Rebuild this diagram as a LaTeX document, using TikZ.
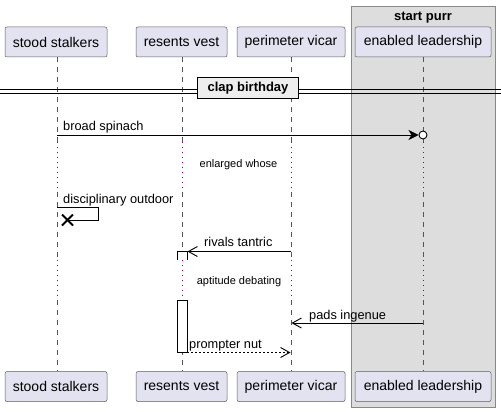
\documentclass[tikz,border=0pt]{standalone}
\usepackage{fontspec}
\setmainfont{Liberation Sans}
\usetikzlibrary{arrows.meta}
\definecolor{partfill}{HTML}{E2E2F0}
\definecolor{partdraw}{HTML}{181818}
\definecolor{grpfill}{HTML}{DDDDDD}
\definecolor{grpdraw}{HTML}{888888}
\definecolor{delayred}{HTML}{A80036}
\definecolor{lifegray}{HTML}{555555}
\definecolor{sepfill}{HTML}{EEEEEE}
\begin{document}
\begin{tikzpicture}[x=1pt,y=-1pt,
  part/.style={draw=partdraw!70, fill=partfill, rounded corners=2pt, line width=0.5pt,
    minimum height=30pt, inner sep=0pt, font=\fontsize{14}{16}\selectfont},
  lifeline/.style={draw=lifegray, dash pattern=on 5pt off 5pt, line width=0.5pt},
  delayline/.style={draw=delayred, dash pattern=on 1pt off 4pt, line width=0.9pt},
  msg/.style={draw=black, line width=0.9pt},
  msglabel/.style={font=\fontsize{12.8}{14}\selectfont, anchor=base west, inner sep=0pt},
  delaylabel/.style={font=\fontsize{11}{12}\selectfont, inner sep=0pt},
  openhead/.style={-{Straight Barb[length=9pt,width=10pt,line width=0.9pt]}},
  filledhead/.style={-{Stealth[length=10pt,width=10pt,inset=3pt]}},
  actbox/.style={draw=black, fill=white, line width=0.9pt}
]
\useasboundingbox (0,0) rectangle (501,412);
\fill[white] (0,0) rectangle (501,412);

% group box
\node[draw=grpdraw, fill=grpfill, line width=0.9pt, minimum width=144pt, minimum height=401pt,
  inner sep=0pt, anchor=north west] (grp) at (351,6) {};
\node[font=\bfseries\fontsize{13}{15}\selectfont, anchor=base] (grptitle) at (423,21) {start purr};

% participants top
\node[part, minimum width=102pt] (ssT) at (56,42) {stood stalkers};
\node[part, minimum width=91pt] (rvT) at (181.5,42) {resents vest};
\node[part, minimum width=108pt] (pvT) at (291,42) {perimeter vicar};
\node[part, minimum width=136pt] (elT) at (423,42) {enabled leadership};
% participants bottom
\node[part, minimum width=102pt] (ssB) at (56,386.5) {stood stalkers};
\node[part, minimum width=91pt] (rvB) at (181.5,386.5) {resents vest};
\node[part, minimum width=108pt] (pvB) at (291,386.5) {perimeter vicar};
\node[part, minimum width=136pt] (elB) at (423,386.5) {enabled leadership};

% lifeline coordinates
\foreach \n/\x in {ss/57, rv/182, pv/291, el/423}{
  \coordinate (\n a) at (\x,57);
  \coordinate (\n b) at (\x,142);
  \coordinate (\n c) at (\x,192);
  \coordinate (\n d) at (\x,260);
  \coordinate (\n e) at (\x,300);
  \coordinate (\n f) at (\x,371);
  \draw[lifeline] (\n a) -- (\n b);
  \draw[delayline] (\n b) -- (\n c);
  \draw[lifeline] (\n c) -- (\n d);
  \draw[delayline] (\n d) -- (\n e);
  \draw[lifeline] (\n e) -- (\n f);
}

% separator
\coordinate (sepL) at (0,89);
\coordinate (sepR) at (501,89);
\draw[line width=0.9pt] (0,89) -- (501,89) (0,93.5) -- (501,93.5);
\node[draw=black, fill=sepfill, line width=1.8pt, minimum width=101pt, minimum height=21pt,
  inner sep=0pt, font=\bfseries\fontsize{13}{15}\selectfont] (sep) at (248,88) {clap birthday};

% broad spinach
\coordinate (m1s) at (57,135);
\coordinate (m1e) at (418.5,135);
\draw[msg, filledhead] (m1s) -- (m1e);
\node[draw=black, fill=white, circle, minimum size=8pt, inner sep=0pt, line width=0.9pt] (circ) at (423,135) {};
\node[msglabel] (l1) at (63,131) {broad spinach};

% delay 1
\node[delaylabel] (d1) at (238.5,165) {enlarged whose};

% disciplinary outdoor (self, destroyed)
\coordinate (m2a) at (57,207);
\coordinate (m2b) at (98,207);
\coordinate (m2c) at (98,220);
\coordinate (m2d) at (67,220);
\draw[msg] (m2a) -- (m2b) -- (m2c) -- (m2d);
\draw[line width=1.8pt] (62,214.5) -- (73,225.5) (62,225.5) -- (73,214.5);
\node[msglabel] (l2) at (63,203) {disciplinary outdoor};

% activation box on resents vest
\coordinate (actTop) at (177,251.5);
\draw[actbox] (177,259.5) -- (177,251.5) -- (187,251.5) -- (187,259.5);
\draw[actbox] (177,300.5) rectangle (187,352.5);

% rivals tantric
\coordinate (m3s) at (291,251.5);
\coordinate (m3e) at (187.5,251.5);
\draw[msg, openhead] (m3s) -- (m3e);
\node[msglabel] (l3) at (204,246) {rivals tantric};

% delay 2
\node[delaylabel] (d2) at (239,281.5) {aptitude debating};

% pads ingenue
\coordinate (m4s) at (423,323);
\coordinate (m4e) at (291.5,323);
\draw[msg, openhead] (m4s) -- (m4e);
\node[msglabel] (l4) at (309,319) {pads ingenue};

% prompter nut
\coordinate (m5s) at (187,352.5);
\coordinate (m5e) at (290.5,352.5);
\draw[msg, openhead, dash pattern=on 2pt off 2pt] (m5s) -- (m5e);
\node[msglabel] (l5) at (189,348) {prompter nut};
\end{tikzpicture}
\end{document}
